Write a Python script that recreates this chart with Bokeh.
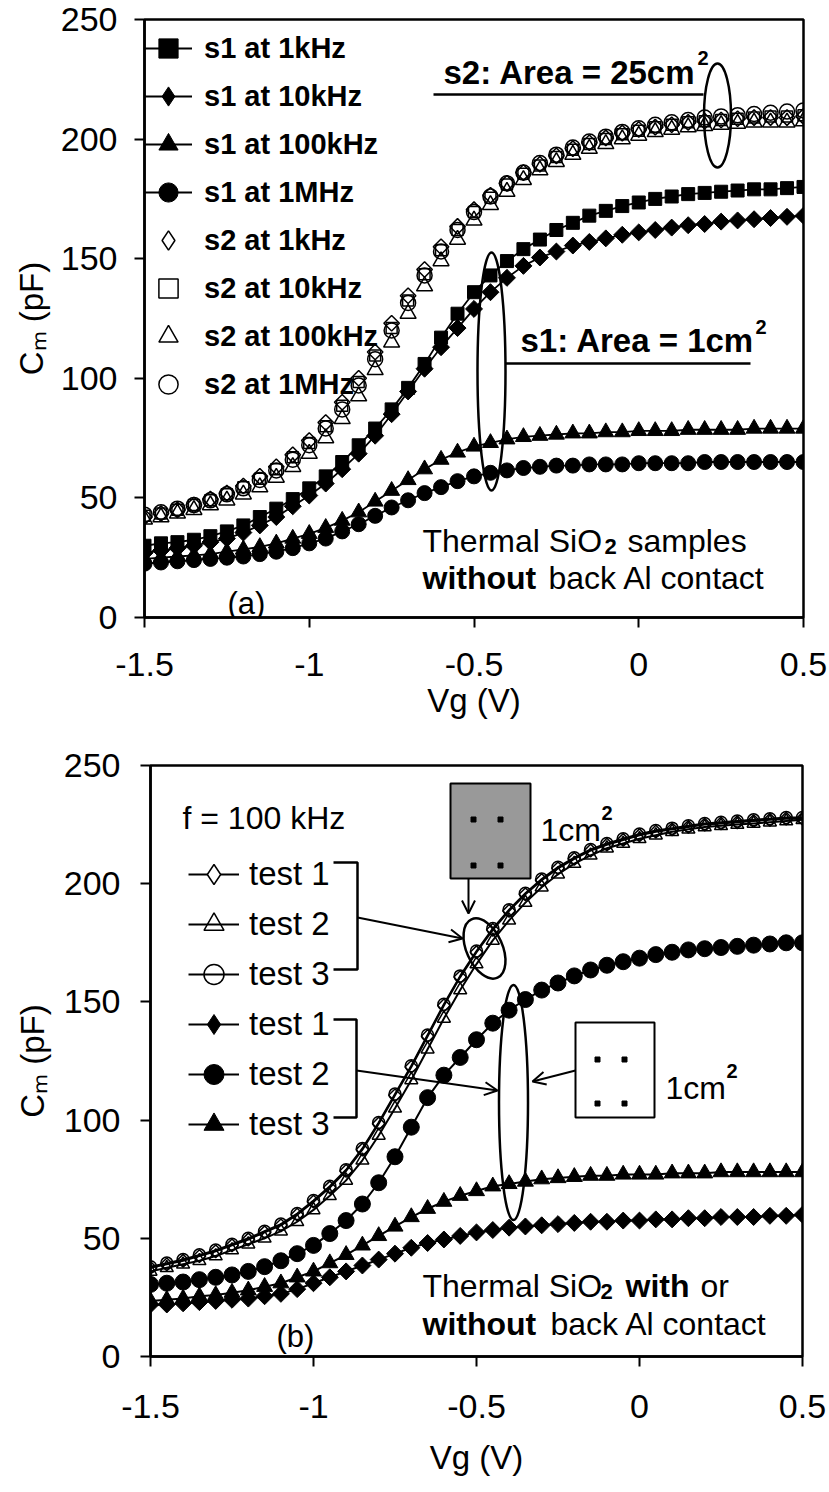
import math
from bokeh.plotting import figure
from bokeh.models import (Range1d, FixedTicker, Legend, LegendItem, Label,
                          Arrow, OpenHead)
from bokeh.embed import file_html
from bokeh.resources import INLINE

FONT = "Liberation Sans"

# ---------------- data ----------------
VG = [-1.5, -1.45, -1.4, -1.35, -1.3, -1.25, -1.2, -1.15, -1.1, -1.05,
      -1.0, -0.95, -0.9, -0.85, -0.8, -0.75, -0.7, -0.65, -0.6, -0.55,
      -0.5, -0.45, -0.4, -0.35, -0.3, -0.25, -0.2, -0.15, -0.1, -0.05,
      0.0, 0.05, 0.1, 0.15, 0.2, 0.25, 0.3, 0.35, 0.4, 0.45, 0.5]

X_TICKS = [-1.5, -1.0, -0.5, 0.0, 0.5]
X_TICK_LABELS = ["-1.5", "-1", "-0.5", "0", "0.5"]
Y_TICKS = [0, 50, 100, 150, 200, 250]
Y_TICK_LABELS = ["0", "50", "100", "150", "200", "250"]

# panel (a): sample s1 (1 cm2) and s2 (25 cm2)
s1_1k = [30, 31, 31.5, 32.5, 34, 36, 38.5, 42, 45.5, 49.5, 54, 59, 65, 72, 79, 87, 96, 106,
         117, 127, 136, 143, 149, 154, 158, 162, 165, 168, 170, 172, 173.5, 175, 176, 177,
         177.5, 178, 178.5, 179, 179, 179.5, 180]
s1_10k = [27, 28, 29, 30, 31.5, 33, 35.5, 38.5, 42, 46.5, 51, 56, 62, 68.5, 76, 85, 94.5, 104,
          113, 121, 129, 136, 142, 147, 150.5, 153, 155.5, 157, 158.5, 160, 161, 162, 163, 164,
          164.5, 165.5, 166, 166.5, 167, 167.5, 168]
s1_100k = [24.5, 25, 25.5, 26, 26.5, 27.5, 28.5, 29.5, 31, 33, 35, 37.5, 40.5, 44, 48.5, 53,
           57.5, 62, 66, 69, 71.5, 73, 74.5, 75.5, 76, 76.5, 77, 77, 77.5, 77.5, 78, 78, 78,
           78.5, 78.5, 78.5, 78.5, 79, 79, 79, 79]
s1_1M = [22.5, 23, 23.5, 24, 24.5, 25, 25.5, 26.5, 27.5, 29, 31, 33, 36, 39, 42.5, 46, 49, 52,
         54.5, 57, 59, 60.5, 61.5, 62.5, 63, 63.5, 63.5, 64, 64, 64, 64.5, 64.5, 64.5, 64.5,
         65, 65, 65, 65, 65, 65, 65]
s2_1k = [42, 43.5, 45, 47, 49.5, 52, 55, 59, 63, 68, 74, 81.5, 90, 100, 111, 123, 134.5, 145.5,
         155, 163.5, 170.5, 176.5, 181.5, 186, 189.5, 193, 196, 198.5, 200.5, 202.5, 204, 205,
         206, 207, 207.5, 208, 208.5, 209, 209, 209, 209.5]
s2_10k = [42.5, 43.5, 45, 47, 49, 51.5, 54.5, 58, 62, 67, 73, 80, 88.5, 98.5, 109.5, 121, 132.5,
          143.5, 153.5, 162, 169.5, 175.5, 181, 185.5, 189, 192.5, 195.5, 198, 200, 202, 203.5,
          205, 206, 207, 207.5, 208, 208.5, 209, 209.5, 209.5, 210]
s2_100k = [41, 42, 43.5, 45, 47, 49, 51.5, 54.5, 58.5, 63, 68.5, 75, 83, 92.5, 103.5, 115, 127,
           138.5, 149, 158, 166, 172.5, 178, 183, 187, 190.5, 193.5, 196, 198, 200, 201.5, 203,
           204, 205, 205.5, 206, 206.5, 207, 207, 207, 207.5]
s2_1M = [43, 44, 45.5, 47, 49, 51.5, 54, 57.5, 61.5, 66, 72, 79, 87, 97, 108, 120, 131.5, 143,
         153, 162, 169.5, 176, 181.5, 186, 190, 193.5, 196.5, 199, 201, 203, 204.5, 206, 207,
         208, 209, 209.5, 210, 210.5, 211, 211.5, 212]

# panel (b): f = 100 kHz, with (open) / without (filled) back Al contact
with_test1 = [37.5, 39, 40.5, 42.5, 44.5, 47, 49.5, 52.5, 55.5, 60, 65.5, 71.5, 78.5, 87.5, 98.5,
              110.5, 122.5, 135.5, 148.5, 160.5, 171, 180.5, 188.5, 195.5, 201.5, 206.5, 210.5,
              214, 216.5, 218.5, 220.5, 222, 223, 224, 225, 225.5, 226, 226.5, 227, 227.5, 227.5]
with_test2 = [36, 37.5, 39, 40.5, 42.5, 45, 47.5, 50, 53, 57, 62, 68, 74.5, 83, 93.5, 105, 117,
              130, 143, 155, 166, 176, 184.5, 192, 198.5, 204, 208.5, 212, 215, 217, 219, 220.5,
              222, 223, 224, 224.5, 225, 225.5, 226, 226.5, 227]
with_test3 = [38, 39.5, 41, 43, 45, 47.5, 50, 53, 56, 60.5, 66, 72, 79, 88, 99, 111, 123, 136,
              149, 161, 171.5, 181, 189, 196, 202, 207, 211, 214.5, 217, 219, 221, 222.5, 223.5,
              224.5, 225.5, 226, 226.5, 227, 227.5, 228, 228]
without_test1 = [22, 22, 22.5, 23, 23.5, 24, 24.5, 25.5, 26.5, 28.5, 31, 33.5, 36, 38.5, 41,
                 43.5, 46, 48, 49.5, 51, 52.5, 53.5, 54.5, 55, 55.5, 56, 56.5, 57, 57, 57.5,
                 57.5, 58, 58, 58.5, 58.5, 59, 59, 59, 59.5, 59.5, 60]
without_test2 = [30.5, 31, 31.5, 32.5, 33.5, 34.5, 36, 38, 40.5, 43.5, 47, 52, 57.5, 64.5, 73.5,
                 84.5, 97, 109.5, 119, 126.5, 134, 141, 146.5, 151, 155, 158, 161, 163.5, 165.5,
                 167, 168.5, 170, 171, 172, 172.5, 173, 173.5, 174, 174.5, 175, 175]
without_test3 = [23.5, 24, 24.5, 25.5, 26, 27, 28, 29.5, 31, 33.5, 36, 39.5, 43, 47, 51, 55, 59,
                 62.5, 65.5, 68, 70, 72, 73, 74, 75, 75.5, 76, 76.5, 76.5, 77, 77, 77, 77.5,
                 77.5, 77.5, 78, 78, 78, 78, 78, 78]

# ---------------- layout helpers (pixel -> data, for annotations only) ----------------
TOP_L, TOP_R, TOP_T, TOP_B = 144, 803, 19, 617
BOT_L, BOT_R, BOT_T, BOT_B = 150, 802, 765, 1356
H1 = 745
H2 = 1492 - H1


def tx(px):
    return -1.5 + (px - TOP_L) * 2.0 / (TOP_R - TOP_L)


def ty(py):
    return (TOP_B - py) * 250.0 / (TOP_B - TOP_T)


def bx(px):
    return -1.5 + (px - BOT_L) * 2.0 / (BOT_R - BOT_L)


def by(py):
    return (BOT_B - py) * 250.0 / (BOT_B - BOT_T)


def make_fig(height, ml, mr, mt, mb, y_standoff, y_title_standoff, x_standoff, x_title_standoff):
    p = figure(width=829, height=height, x_range=Range1d(-1.5, 0.5), y_range=Range1d(0, 250),
               output_backend="svg", toolbar_location=None,
               min_border_left=ml, min_border_right=mr, min_border_top=mt, min_border_bottom=mb)
    p.background_fill_color = "white"
    p.border_fill_color = "white"
    p.outline_line_color = "black"
    p.outline_line_width = 2.5
    p.xgrid.visible = False
    p.ygrid.visible = False
    p.xaxis.ticker = FixedTicker(ticks=X_TICKS)
    p.yaxis.ticker = FixedTicker(ticks=Y_TICKS)
    p.xaxis.major_label_overrides = {t: s for t, s in zip(X_TICKS, X_TICK_LABELS)}
    p.yaxis.major_label_overrides = {t: s for t, s in zip(Y_TICKS, Y_TICK_LABELS)}
    for ax in (p.xaxis[0], p.yaxis[0]):
        ax.axis_line_width = 2.5
        ax.axis_line_color = "black"
        ax.major_tick_line_width = 2
        ax.major_tick_line_color = "black"
        ax.major_tick_in = 0
        ax.major_tick_out = 10
        ax.minor_tick_line_color = None
        ax.major_label_text_font = FONT
        ax.major_label_text_font_size = "34px"
        ax.major_label_text_color = "black"
        ax.axis_label_text_font = FONT
        ax.axis_label_text_font_size = "33px"
        ax.axis_label_text_font_style = "normal"
        ax.axis_label_text_color = "black"
    p.xaxis.axis_label = "Vg (V)"
    p.yaxis.axis_label = "Cₘ (pF)"
    p.yaxis.major_label_standoff = y_standoff
    p.yaxis.axis_label_standoff = y_title_standoff
    p.xaxis.major_label_standoff = x_standoff
    p.xaxis.axis_label_standoff = x_title_standoff
    return p


def label(p, x, y, text, size, bold=False):
    p.add_layout(Label(x=x, y=y, text=text, text_font=FONT, text_font_size=size,
                       text_font_style="bold" if bold else "normal",
                       text_color="black", text_baseline="alphabetic", text_align="left"))


def arrow(p, x0, y0, x1, y1):
    p.add_layout(Arrow(end=OpenHead(size=13, line_width=2, line_color="black"),
                       x_start=x0, y_start=y0, x_end=x1, y_end=y1,
                       line_width=2, line_color="black"))


DIAMOND_ANGLE = math.pi / 4

# ================= panel (a) =================
p1 = make_fig(H1, TOP_L, 829 - TOP_R, TOP_T, H1 - TOP_B, 17, 8, 25, 3)

# s2 series (open markers, no lines)
r_s2_1k = p1.scatter(VG, s2_1k, marker="square", angle=DIAMOND_ANGLE, size=11,
                     fill_color=None, line_color="black", line_width=1.5)
r_s2_10k = p1.scatter(VG, s2_10k, marker="square", size=11,
                      fill_color=None, line_color="black", line_width=1.5)
r_s2_100k = p1.scatter(VG, s2_100k, marker="triangle", size=16,
                       fill_color=None, line_color="black", line_width=1.5)
r_s2_1M = p1.scatter(VG, s2_1M, marker="circle", size=15,
                     fill_color=None, line_color="black", line_width=1.5)

# s1 series (filled markers with lines)
l_s1_1k = p1.line(VG, s1_1k, line_color="black", line_width=1.8)
r_s1_1k = p1.scatter(VG, s1_1k, marker="square", size=13, fill_color="black", line_color="black")
l_s1_10k = p1.line(VG, s1_10k, line_color="black", line_width=1.8)
r_s1_10k = p1.scatter(VG, s1_10k, marker="square", angle=DIAMOND_ANGLE, size=12,
                      fill_color="black", line_color="black")
l_s1_100k = p1.line(VG, s1_100k, line_color="black", line_width=1.8)
r_s1_100k = p1.scatter(VG, s1_100k, marker="triangle", size=16, fill_color="black", line_color="black")
l_s1_1M = p1.line(VG, s1_1M, line_color="black", line_width=1.8)
r_s1_1M = p1.scatter(VG, s1_1M, marker="circle", size=15, fill_color="black", line_color="black")

# hidden legend-only diamond glyphs (the legend does not rotate markers)
k_s1_10k = p1.scatter(VG, s1_10k, marker="diamond", size=23, fill_color="black",
                      line_color="black", visible=False)
k_s2_1k = p1.scatter(VG, s2_1k, marker="diamond", size=21, fill_color=None, line_color="black",
                     line_width=1.5, visible=False)

leg1 = Legend(items=[
    LegendItem(label="s1 at 1kHz", renderers=[l_s1_1k, r_s1_1k]),
    LegendItem(label="s1 at 10kHz", renderers=[l_s1_10k, k_s1_10k]),
    LegendItem(label="s1 at 100kHz", renderers=[l_s1_100k, r_s1_100k]),
    LegendItem(label="s1 at 1MHz", renderers=[l_s1_1M, r_s1_1M]),
    LegendItem(label="s2 at 1kHz", renderers=[k_s2_1k]),
    LegendItem(label="s2 at 10kHz", renderers=[r_s2_10k]),
    LegendItem(label="s2 at 100kHz", renderers=[r_s2_100k]),
    LegendItem(label="s2 at 1MHz", renderers=[r_s2_1M]),
], location=(0, TOP_B - (24 + 8 * 48)), glyph_width=48, glyph_height=48, label_height=48,
    spacing=0, padding=0, margin=0, label_standoff=12,
    label_text_font=FONT, label_text_font_size="29px", label_text_font_style="bold",
    label_text_color="black", background_fill_alpha=0, border_line_alpha=0)
p1.add_layout(leg1)

# annotations panel (a)
label(p1, tx(443), ty(72), "s2: Area = 25cm", "33px", bold=True)
label(p1, tx(697), ty(57), "2", "20px", bold=True)
p1.line([tx(433), tx(703)], [ty(94), ty(94)], line_color="black", line_width=2.5)
p1.ellipse(x=[tx(717)], y=[ty(115)], width=[27], height=[104], width_units="screen",
           height_units="screen", fill_color=None, line_color="black", line_width=2.5)

label(p1, tx(520), ty(340), "s1: Area = 1cm", "33px", bold=True)
label(p1, tx(755), ty(326), "2", "20px", bold=True)
p1.line([tx(505), tx(750)], [ty(363), ty(363)], line_color="black", line_width=2.5)
p1.ellipse(x=[tx(491)], y=[ty(371)], width=[28], height=[238], width_units="screen",
           height_units="screen", fill_color=None, line_color="black", line_width=2.5)

label(p1, tx(422), ty(540), "Thermal SiO", "32px")
label(p1, tx(604), ty(546), "2", "22px", bold=True)
label(p1, tx(627), ty(540), "samples", "32px")
label(p1, tx(422), ty(577), "without", "32px", bold=True)
label(p1, tx(548), ty(577), "back Al contact", "32px")
label(p1, tx(227), ty(603), "(a)", "31px")

# ================= panel (b) =================
p2 = make_fig(H2, BOT_L, 829 - BOT_R, BOT_T - H1, H2 - (BOT_B - H1), 20, 10, 28, 18)

l_w1 = p2.line(VG, with_test1, line_color="black", line_width=2)
r_w1 = p2.scatter(VG, with_test1, marker="square", angle=DIAMOND_ANGLE, size=9,
                  fill_color=None, line_color="black", line_width=1.5)
l_w2 = p2.line(VG, with_test2, line_color="black", line_width=2)
r_w2 = p2.scatter(VG, with_test2, marker="triangle", size=13,
                  fill_color=None, line_color="black", line_width=1.5)
l_w3 = p2.line(VG, with_test3, line_color="black", line_width=2)
r_w3 = p2.scatter(VG, with_test3, marker="circle", size=12,
                  fill_color=None, line_color="black", line_width=1.5)

l_o1 = p2.line(VG, without_test1, line_color="black", line_width=2)
r_o1 = p2.scatter(VG, without_test1, marker="square", angle=DIAMOND_ANGLE, size=12,
                  fill_color="black", line_color="black")
l_o2 = p2.line(VG, without_test2, line_color="black", line_width=2)
r_o2 = p2.scatter(VG, without_test2, marker="circle", size=16, fill_color="black", line_color="black")
l_o3 = p2.line(VG, without_test3, line_color="black", line_width=2)
r_o3 = p2.scatter(VG, without_test3, marker="triangle", size=16, fill_color="black", line_color="black")

k_w1 = p2.scatter(VG, with_test1, marker="diamond", size=21, fill_color="white",
                  line_color="black", line_width=1.5, visible=False)
k_o1 = p2.scatter(VG, without_test1, marker="diamond", size=23, fill_color="black",
                  line_color="black", visible=False)

leg2 = Legend(items=[
    LegendItem(label="test 1", renderers=[l_w1, k_w1]),
    LegendItem(label="test 2", renderers=[l_w2, r_w2]),
    LegendItem(label="test 3", renderers=[l_w3, r_w3]),
    LegendItem(label="test 1", renderers=[l_o1, k_o1]),
    LegendItem(label="test 2", renderers=[l_o2, r_o2]),
    LegendItem(label="test 3", renderers=[l_o3, r_o3]),
], location=(38, BOT_B - (849 + 6 * 50)), glyph_width=51, glyph_height=50, label_height=50,
    spacing=0, padding=0, margin=0, label_standoff=10,
    label_text_font=FONT, label_text_font_size="33px", label_text_font_style="normal",
    label_text_color="black", background_fill_alpha=0, border_line_alpha=0)
p2.add_layout(leg2)

label(p2, bx(182), by(817), "f = 100 kHz", "32px")

# brackets grouping legend entries
p2.line([bx(333), bx(357), bx(357), bx(333)], [by(862), by(862), by(969), by(969)],
        line_color="black", line_width=2.5)
p2.line([bx(333), bx(356), bx(356), bx(333)], [by(1019), by(1019), by(1117), by(1117)],
        line_color="black", line_width=2.5)
arrow(p2, bx(357), by(917), bx(462), by(938))
arrow(p2, bx(356), by(1070), bx(497), by(1090))

# grey box (with back contact)
p2.quad(left=[bx(450)], right=[bx(530)], top=[by(783)], bottom=[by(878)],
        fill_color="#999999", line_color="black", line_width=2)
p2.scatter([bx(473), bx(500), bx(473), bx(500)], [by(819), by(819), by(865), by(865)],
           marker="square", size=5, fill_color="black", line_color="black")
label(p2, bx(540), by(829), "1cm", "32px")
label(p2, bx(601), by(812), "2", "20px", bold=True)
arrow(p2, bx(468), by(878), bx(468), by(913))
p2.ellipse(x=[bx(484)], y=[by(948)], width=[36], height=[64], angle=[0.42],
           width_units="screen", height_units="screen", fill_color=None,
           line_color="black", line_width=2.5)

# white box (without back contact)
p2.quad(left=[bx(575)], right=[bx(654)], top=[by(1022)], bottom=[by(1117)],
        fill_color="white", line_color="black", line_width=2)
p2.scatter([bx(597), bx(624), bx(597), bx(624)], [by(1059), by(1059), by(1103), by(1103)],
           marker="square", size=5, fill_color="black", line_color="black")
label(p2, bx(665), by(1087), "1cm", "32px")
label(p2, bx(726), by(1070), "2", "20px", bold=True)
arrow(p2, bx(575), by(1070), bx(532), by(1081))
p2.ellipse(x=[bx(513)], y=[by(1102)], width=[29], height=[235],
           width_units="screen", height_units="screen", fill_color=None,
           line_color="black", line_width=2.5)

label(p2, bx(422), by(1285), "Thermal SiO", "32px")
label(p2, bx(600), by(1291), "2", "22px", bold=True)
label(p2, bx(625), by(1285), "with", "32px", bold=True)
label(p2, bx(700), by(1285), "or", "32px")
label(p2, bx(422), by(1323), "without", "32px", bold=True)
label(p2, bx(550), by(1323), "back Al contact", "32px")
label(p2, bx(276), by(1336), "(b)", "31px")

# two independent roots stacked on the page (keeps each frame at its own position)
open("out.html", "w").write(file_html([p1, p2], INLINE))
